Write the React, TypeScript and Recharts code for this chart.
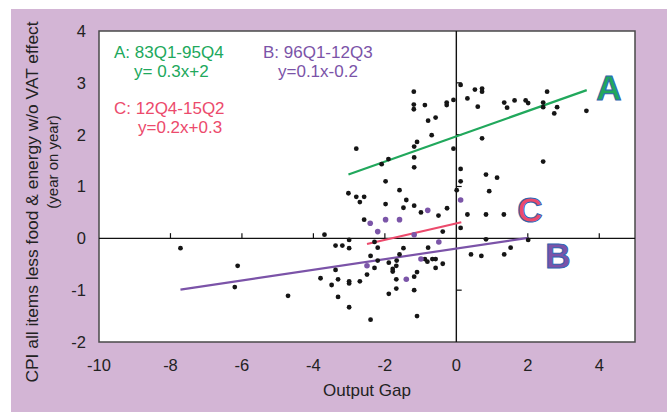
import React from 'react';
import { ScatterChart, Scatter, XAxis, YAxis, CartesianGrid, ReferenceLine, ReferenceArea } from 'recharts';

// quarterly observations (output gap, core CPI)
const blackPoints = [
  { x: -1.19, y: 2.83 }, { x: -1.19, y: 2.58 }, { x: -1.19, y: 2.49 }, { x: -0.88, y: 2.57 },
  { x: -0.27, y: 2.62 }, { x: -0.27, y: 2.57 }, { x: -0.08, y: 2.67 }, { x: 0.12, y: 2.96 },
  { x: 0.52, y: 2.87 }, { x: 0.6, y: 2.54 }, { x: -0.79, y: 2.27 }, { x: -0.58, y: 2.33 },
  { x: -0.69, y: 1.99 }, { x: -1.1, y: 1.86 }, { x: -1.18, y: 1.77 }, { x: -2.8, y: 1.73 },
  { x: -0.08, y: 1.73 }, { x: -1.9, y: 1.53 }, { x: -2.09, y: 1.43 }, { x: -1.18, y: 1.56 },
  { x: -1.18, y: 1.37 }, { x: 0.12, y: 1.34 }, { x: 0.12, y: 1.1 }, { x: -1.98, y: 1.1 },
  { x: 0.01, y: 0.93 }, { x: -1.59, y: 0.93 }, { x: -3.02, y: 0.87 }, { x: -2.8, y: 0.8 },
  { x: -2.58, y: 0.8 }, { x: -2.7, y: 0.7 }, { x: -1.4, y: 0.74 }, { x: -1.98, y: 0.66 },
  { x: -1.48, y: 0.59 }, { x: -1.18, y: 0.63 }, { x: -0.26, y: 0.58 }, { x: -0.99, y: 0.5 },
  { x: -0.5, y: 0.44 }, { x: 0.31, y: 0.46 }, { x: -2.58, y: 0.36 }, { x: -0.38, y: 0.13 },
  { x: 0.12, y: 0.2 }, { x: -3.69, y: 0.07 }, { x: -2.29, y: -0.07 }, { x: -3.38, y: -0.14 },
  { x: -3.19, y: -0.14 }, { x: -3.0, y: -0.03 }, { x: -3.0, y: -0.19 }, { x: -2.2, y: -0.18 },
  { x: -1.48, y: -0.19 }, { x: -0.79, y: -0.18 }, { x: -1.59, y: -0.31 }, { x: -2.4, y: -0.34 },
  { x: 0.41, y: -0.31 }, { x: -2.2, y: -0.43 }, { x: -1.89, y: -0.47 }, { x: -1.67, y: -0.43 },
  { x: -1.68, y: -0.53 }, { x: -2.29, y: -0.57 }, { x: -0.88, y: -0.4 }, { x: -0.81, y: -0.45 },
  { x: -0.67, y: -0.4 }, { x: -0.58, y: -0.4 }, { x: -0.58, y: -0.57 }, { x: -0.38, y: -0.49 },
  { x: -3.38, y: -0.61 }, { x: -1.78, y: -0.59 }, { x: -1.78, y: -0.64 }, { x: -2.5, y: -0.7 },
  { x: -1.1, y: -0.65 }, { x: -1.18, y: -0.74 }, { x: -1.68, y: -0.79 }, { x: -3.8, y: -0.77 },
  { x: -3.31, y: -0.79 }, { x: -3.0, y: -0.83 }, { x: -3.0, y: -0.87 }, { x: -2.7, y: -0.83 },
  { x: -3.49, y: -0.9 }, { x: -1.68, y: -0.97 }, { x: -1.18, y: -1.0 }, { x: -1.89, y: -1.07 },
  { x: -4.71, y: -1.11 }, { x: -3.31, y: -1.13 }, { x: -3.0, y: -1.33 }, { x: -1.1, y: -1.5 },
  { x: -2.4, y: -1.57 }, { x: -7.72, y: -0.19 }, { x: -6.12, y: -0.53 }, { x: -6.2, y: -0.94 },
  { x: 0.72, y: 2.89 }, { x: 0.72, y: 2.83 }, { x: 0.31, y: 2.7 }, { x: 1.34, y: 2.62 },
  { x: 1.42, y: 2.52 }, { x: 1.63, y: 2.66 }, { x: 1.94, y: 2.66 }, { x: 2.01, y: 2.61 },
  { x: 2.54, y: 2.83 }, { x: 2.43, y: 2.62 }, { x: 2.43, y: 2.53 }, { x: 2.82, y: 2.53 },
  { x: 2.74, y: 2.41 }, { x: 3.64, y: 2.46 }, { x: 0.72, y: 1.93 }, { x: 2.43, y: 1.48 },
  { x: 0.83, y: 1.23 }, { x: 1.14, y: 1.17 }, { x: 0.92, y: 0.91 }, { x: 0.83, y: 0.46 },
  { x: 1.33, y: 0.46 }, { x: 0.83, y: -0.02 }, { x: 2.01, y: -0.03 }, { x: 0.7, y: -0.34 },
  { x: 1.34, y: -0.31 }, { x: 1.52, y: -0.18 },
];

// 12Q4-15Q2 observations
const purplePoints = [
  { x: 0.12, y: 0.74 }, { x: -0.8, y: 0.54 }, { x: -2.41, y: 0.29 }, { x: -1.98, y: 0.36 },
  { x: -1.59, y: 0.36 }, { x: -2.2, y: 0.13 }, { x: -1.18, y: 0.07 }, { x: -0.49, y: -0.07 },
  { x: -0.99, y: -0.4 }, { x: -2.5, y: -0.53 }, { x: -1.4, y: -0.79 },
];

// fitted lines, endpoints
const lineA = [{ x: -3.02, y: 1.23 }, { x: 3.65, y: 2.86 }];
const lineB = [{ x: -7.72, y: -0.99 }, { x: 2.01, y: 0.01 }];
const lineC = [{ x: -2.5, y: -0.11 }, { x: 0.14, y: 0.31 }];

const xTicks = [-10, -8, -6, -4, -2, 0, 2, 4];
const yTicks = [-2, -1, 0, 1, 2, 3, 4];
const xZeroTicks = [-8, -6, -4, -2, 2, 4];
const yZeroTicks = [-1, 1, 2, 3];

const GREEN = '#21a85c';
const PURPLE = '#7b53a8';
const PINK = '#ec4a6c';
const FONT = '"Liberation Sans", Arial, sans-serif';

const noDot = () => <g />;

const YLabel = () => (
  <g fontFamily={FONT} fill="#222">
    <text x={27} y={193} transform="rotate(-90 27 193)" textAnchor="middle" fontSize={17.4}>
      CPI all items less food &amp; energy w/o VAT effect
    </text>
    <text x={47} y={153} transform="rotate(-90 47 153)" textAnchor="middle" fontSize={15}>
      (year on year)
    </text>
  </g>
);

const note = (left: number, top: number, color: string, text: string) => (
  <div style={{ position: 'absolute', left, top, color, fontSize: 17, lineHeight: '20px', whiteSpace: 'nowrap' }}>
    {text}
  </div>
);

const bigLetter = (cx: number, cy: number, color: string, text: string) => (
  <div
    style={{
      position: 'absolute', left: cx - 20, top: cy - 20, width: 40, height: 40, lineHeight: '40px',
      textAlign: 'center', fontSize: 35, fontWeight: 'bold', color, WebkitTextStroke: '1px #2f64b0',
    }}
  >
    {text}
  </div>
);

export default function App() {
  return (
    <div style={{ position: 'absolute', left: 11, top: 9, width: 656, height: 403, background: '#d3b5d5', fontFamily: FONT }}>
      <ScatterChart width={656} height={403} margin={{ top: 22, right: 32, left: 48, bottom: 40 }}>
        <CartesianGrid fill="#ffffff" horizontal={false} vertical={false} />
        <XAxis
          type="number" dataKey="x" domain={[-10, 5]} ticks={xTicks} height={30}
          tickLine={false} axisLine={false} tickMargin={11}
          tick={{ fontSize: 16.5, fill: '#222', fontFamily: FONT }}
          label={{ value: 'Output Gap', position: 'insideBottom', offset: -24, fontSize: 17, fill: '#222', fontFamily: FONT }}
        />
        <YAxis
          type="number" dataKey="y" domain={[-2, 4]} ticks={yTicks} width={40}
          tickLine={false} axisLine={false} tickMargin={7}
          tick={{ fontSize: 16.5, fill: '#222', fontFamily: FONT }}
          label={{ content: YLabel }}
        />
        <ReferenceArea x1={-10} x2={5} y1={-2} y2={4} fill="none" stroke="#4a4a4a" strokeWidth={1.5} />
        <ReferenceLine x={0} stroke="#111" strokeWidth={1.4} />
        <ReferenceLine y={0} stroke="#111" strokeWidth={1.4} />
        {xZeroTicks.map(t => (
          <ReferenceLine key={'xt' + t} segment={[{ x: t, y: 0 }, { x: t, y: 0.1 }]} stroke="#111" strokeWidth={1.2} />
        ))}
        {yZeroTicks.map(t => (
          <ReferenceLine key={'yt' + t} segment={[{ x: 0, y: t }, { x: 0.15, y: t }]} stroke="#111" strokeWidth={1.2} />
        ))}
        <Scatter data={lineA} line={{ stroke: GREEN, strokeWidth: 2.2 }} shape={noDot} isAnimationActive={false} />
        <Scatter data={lineB} line={{ stroke: PURPLE, strokeWidth: 2.2 }} shape={noDot} isAnimationActive={false} />
        <Scatter data={lineC} line={{ stroke: PINK, strokeWidth: 2.2 }} shape={noDot} isAnimationActive={false} />
        <Scatter
          data={blackPoints} isAnimationActive={false}
          shape={(p: any) => <circle cx={p.cx} cy={p.cy} r={2.4} fill="#151515" />}
        />
        <Scatter
          data={purplePoints} isAnimationActive={false}
          shape={(p: any) => <circle cx={p.cx} cy={p.cy} r={2.8} fill="#7b55a8" />}
        />
      </ScatterChart>
      {note(103, 34, GREEN, 'A: 83Q1-95Q4')}
      {note(123, 53, GREEN, 'y= 0.3x+2')}
      {note(252, 34, PURPLE, 'B: 96Q1-12Q3')}
      {note(267, 53, PURPLE, 'y=0.1x-0.2')}
      {note(103, 90, PINK, 'C: 12Q4-15Q2')}
      {note(127, 109, PINK, 'y=0.2x+0.3')}
      {bigLetter(598, 79, GREEN, 'A')}
      {bigLetter(519, 201, PINK, 'C')}
      {bigLetter(547, 247, PURPLE, 'B')}
    </div>
  );
}
